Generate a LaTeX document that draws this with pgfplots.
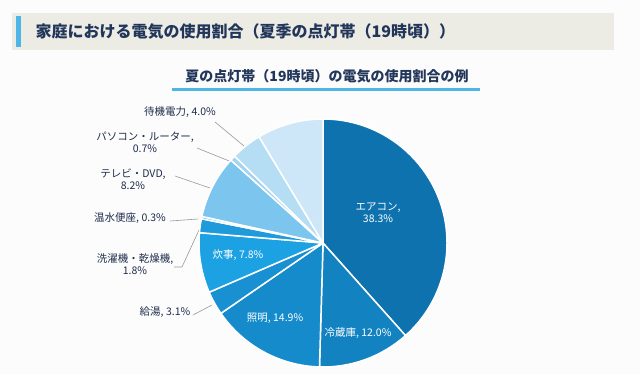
\documentclass[border=0pt]{standalone}
\usepackage{fontspec}
\setmainfont{Noto Sans CJK JP}
\usepackage{pgfplots}
\pgfplotsset{compat=1.18}
\definecolor{cA}{HTML}{0E72AE}
\definecolor{cB}{HTML}{1382C1}
\definecolor{cC}{HTML}{168BCB}
\definecolor{cD}{HTML}{1890D2}
\definecolor{cE}{HTML}{1CA1E2}
\definecolor{cF}{HTML}{1F9ADB}
\definecolor{cG}{HTML}{5BB8EA}
\definecolor{cH}{HTML}{7CC5EE}
\definecolor{cI}{HTML}{A0D4F2}
\definecolor{cJ}{HTML}{B5DDF4}
\definecolor{cK}{HTML}{CDE7F8}
\definecolor{navy}{HTML}{22365A}
\definecolor{lbl}{HTML}{1F2D4D}
\definecolor{barbg}{HTML}{ECEBE4}
\definecolor{accent}{HTML}{4DB6E6}
\begin{document}
\begin{tikzpicture}
\begin{axis}[width=640bp,height=374bp,scale only axis,
  xmin=0,xmax=640,ymin=0,ymax=374,y dir=reverse,hide axis,clip=false]
\fill[white!99!black] (axis cs:0,0) rectangle (axis cs:640,374);
% title bar
\fill[barbg] (axis cs:12,13) rectangle (axis cs:614,50);
\fill[accent] (axis cs:16,16) rectangle (axis cs:21,47);
\node[anchor=west,text=navy,font=\fontsize{16bp}{19bp}\selectfont\bfseries] at (axis cs:32,32) {家庭における電気の使用割合（夏季の点灯帯（19時頃））};
% subtitle
\node[text=navy,font=\fontsize{14bp}{16bp}\selectfont\bfseries] at (axis cs:327,76) {夏の点灯帯（19時頃）の電気の使用割合の例};
\draw[accent,line width=3bp] (axis cs:172,89) -- (axis cs:480,89);
\coordinate (C) at (axis cs:323,243);
% leader lines
\begin{scope}[draw=gray!80,line width=0.6bp]
\draw (axis cs:215,122) -- (axis cs:244,146);
\draw (axis cs:197,148) -- (axis cs:254,171);
\draw (axis cs:175,176) -- (axis cs:210,188);
\draw (axis cs:170,221) -- (axis cs:198,219);
\draw (axis cs:174,267) -- (axis cs:182,267) -- (axis cs:199,230);
\draw (axis cs:193,315) -- (axis cs:212,305);
\end{scope}
% labels (outside)
\begin{scope}[every node/.style={text=lbl,font=\fontsize{10.5bp}{12bp}\selectfont,align=center,inner sep=0pt}]
\node at (axis cs:180,112) {待機電力, 4.0\%};
\node at (axis cs:145,142) {パソコン・ルーター,\\0.7\%};
\node at (axis cs:133,179) {テレビ・DVD,\\8.2\%};
\node at (axis cs:130,218) {温水便座, 0.3\%};
\node at (axis cs:135,264) {洗濯機・乾燥機,\\1.8\%};
\node at (axis cs:165,312) {給湯, 3.1\%};
\node at (axis cs:300,145) {他, 8.6\%};
\end{scope}
\coordinate (L1) at (axis cs:378,213);
\coordinate (L2) at (axis cs:358,333);
\coordinate (L3) at (axis cs:275,318);
\coordinate (L4) at (axis cs:238,255);
\end{axis}
% pie slices
\def\s{90}
\foreach \v/\c in {38.3/cA,12.0/cB,14.9/cC,3.1/cD,7.8/cE,1.8/cF,0.3/cG,8.2/cH,0.7/cI,4.0/cJ,8.6/cK}{
  \pgfmathsetmacro\e{\s-360*\v/99.7}
  \fill[\c,draw=white,line width=1.5bp,line join=round] (C) -- ++(\s:124bp) arc[start angle=\s,end angle=\e,radius=124bp] -- cycle;
  \global\let\s\e
}
\begin{scope}[every node/.style={text=white,font=\fontsize{10.5bp}{12bp}\selectfont,align=center,inner sep=0pt}]
\node at (L1) {エアコン,\\38.3\%};
\node at (L2) {冷蔵庫, 12.0\%};
\node at (L3) {照明, 14.9\%};
\node at (L4) {炊事, 7.8\%};
\end{scope}
\end{tikzpicture}
\end{document}
